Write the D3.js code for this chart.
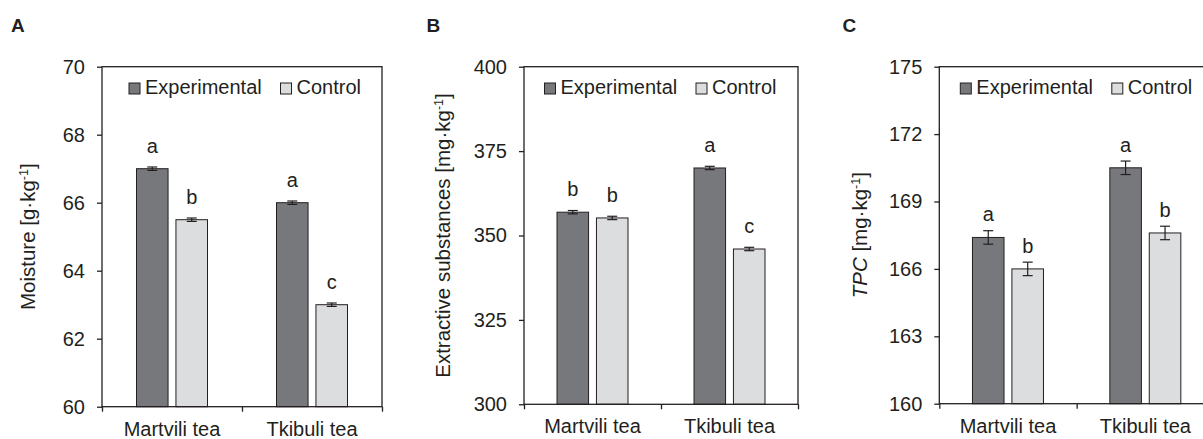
<!DOCTYPE html>
<html>
<head>
<meta charset="utf-8">
<script src="https://cdn.jsdelivr.net/npm/d3@7"></script>
<style>
  body { margin: 0; background: #fff; }
  svg { display: block; font-family: "Liberation Sans", Arial, sans-serif; }
  text { fill: #231f20; }
</style>
</head>
<body>
<svg id="chart" width="1203" height="439"></svg>
<script>
// categories and series
const teas = ["Martvili tea", "Tkibuli tea"];
const series = ["Experimental", "Control"];

// A - moisture
const moistureExp = [67.0, 66.0];
const moistureCtl = [65.5, 63.0];
const moistureErrExp = [0.05, 0.05];
const moistureErrCtl = [0.05, 0.05];
const moistureLetters = [["a", "b"], ["a", "c"]];
const moistureTicks = [60, 62, 64, 66, 68, 70];

// B - extractive substances
const extractExp = [356.9, 370.0];
const extractCtl = [355.2, 346.0];
const extractErrExp = [0.5, 0.5];
const extractErrCtl = [0.5, 0.5];
const extractLetters = [["b", "b"], ["a", "c"]];
const extractTicks = [300, 325, 350, 375, 400];

// C - total phenolic content
const tpcExp = [167.4, 170.5];
const tpcCtl = [166.0, 167.6];
const tpcErrExp = [0.3, 0.3];
const tpcErrCtl = [0.3, 0.3];
const tpcLetters = [["a", "b"], ["a", "b"]];
const tpcTicks = [160, 163, 166, 169, 172, 175];

const colors = { Experimental: "#77787b", Control: "#dcddde" };
const ink = "#231f20";
const fontSize = 20;

const svg = d3.select("#chart");

const panels = [
  { tag: "A", tagX: 11, left: 102, right: 382, top: 66.7, bottom: 406.7,
    exp: moistureExp, ctl: moistureCtl, errExp: moistureErrExp, errCtl: moistureErrCtl,
    letters: moistureLetters, ticks: moistureTicks, titleX: 35, legendX: 27,
    title: [{ t: "Moisture [g·kg" }, { t: "-1", sup: true }, { t: "]" }] },
  { tag: "B", tagX: 426.5, left: 524, right: 798, top: 66.7, bottom: 404.3,
    exp: extractExp, ctl: extractCtl, errExp: extractErrExp, errCtl: extractErrCtl,
    letters: extractLetters, ticks: extractTicks, titleX: 449.5, legendX: 20.5,
    title: [{ t: "Extractive substances [mg·kg" }, { t: "-1", sup: true }, { t: "]" }] },
  { tag: "C", tagX: 842.5, left: 939.3, right: 1214, top: 66.7, bottom: 403.7,
    exp: tpcExp, ctl: tpcCtl, errExp: tpcErrExp, errCtl: tpcErrCtl,
    letters: tpcLetters, ticks: tpcTicks, titleX: 866.8, legendX: 21,
    title: [{ t: "TPC", it: true }, { t: " [mg·kg" }, { t: "-1", sup: true }, { t: "]" }] }
];

panels.forEach(function(p) {
  let g = svg.append("g");

  let y = d3.scaleLinear()
    .domain(d3.extent(p.ticks))
    .range([p.bottom, p.top]);

  let x0 = d3.scaleBand()
    .domain(teas)
    .range([p.left, p.right])
    .padding(0);

  let groupW = 71;
  let x1 = d3.scaleBand()
    .domain(series)
    .range([x0.bandwidth() / 2 - groupW / 2, x0.bandwidth() / 2 + groupW / 2])
    .paddingInner(0.2);

  let rows = [];
  teas.forEach(function(tea, i) {
    rows.push({ tea: tea, s: "Experimental", v: p.exp[i], e: p.errExp[i], l: p.letters[i][0] });
    rows.push({ tea: tea, s: "Control", v: p.ctl[i], e: p.errCtl[i], l: p.letters[i][1] });
  });

  // bars
  g.selectAll("rect.bar")
    .data(rows)
    .enter().append("rect")
    .attr("class", "bar")
    .attr("x", d => x0(d.tea) + x1(d.s))
    .attr("y", d => y(d.v))
    .attr("width", x1.bandwidth())
    .attr("height", d => y.range()[0] - y(d.v))
    .attr("fill", d => colors[d.s])
    .attr("stroke", ink)
    .attr("stroke-width", 1);

  // error bars
  let eb = g.selectAll("g.err")
    .data(rows)
    .enter().append("g")
    .attr("class", "err")
    .attr("transform", d => "translate(" + (x0(d.tea) + x1(d.s) + x1.bandwidth() / 2) + ",0)");
  eb.append("line")
    .attr("y1", d => y(d.v - d.e)).attr("y2", d => y(d.v + d.e))
    .attr("stroke", ink).attr("stroke-width", 1.2);
  eb.append("line")
    .attr("x1", -5).attr("x2", 5)
    .attr("y1", d => y(d.v + d.e)).attr("y2", d => y(d.v + d.e))
    .attr("stroke", ink).attr("stroke-width", 1.2);
  eb.append("line")
    .attr("x1", -5).attr("x2", 5)
    .attr("y1", d => y(d.v - d.e)).attr("y2", d => y(d.v - d.e))
    .attr("stroke", ink).attr("stroke-width", 1.2);

  // significance letters
  g.selectAll("text.letter")
    .data(rows)
    .enter().append("text")
    .attr("class", "letter")
    .attr("x", d => x0(d.tea) + x1(d.s) + x1.bandwidth() / 2)
    .attr("y", d => y(d.v) - 16)
    .attr("text-anchor", "middle")
    .style("font-size", fontSize + "px")
    .text(d => d.l);

  // frame
  g.append("rect")
    .attr("x", p.left).attr("y", p.top)
    .attr("width", p.right - p.left).attr("height", p.bottom - p.top)
    .attr("fill", "none").attr("stroke", ink).attr("stroke-width", 1.3);

  // y axis
  let yAxis = d3.axisLeft(y)
    .tickValues(p.ticks)
    .tickSize(5)
    .tickSizeOuter(0)
    .tickPadding(12);
  let yG = g.append("g").attr("transform", "translate(" + p.left + ",0)").call(yAxis);
  yG.select(".domain").remove();
  yG.selectAll("line").attr("stroke", ink).attr("stroke-width", 1.3);
  yG.selectAll("text").attr("fill", ink).style("font-size", fontSize + "px")
    .style("font-family", "'Liberation Sans', Arial, sans-serif");

  // x axis: boundary ticks
  let xEdge = d3.scaleLinear().domain([0, teas.length]).range([p.left, p.right]);
  let xTickG = g.append("g").attr("transform", "translate(0," + p.bottom + ")")
    .call(d3.axisBottom(xEdge).tickValues(d3.range(teas.length + 1)).tickFormat("").tickSize(5).tickSizeOuter(0));
  xTickG.select(".domain").remove();
  xTickG.selectAll("line").attr("stroke", ink).attr("stroke-width", 1.3);

  // x axis: category labels
  let xLabG = g.append("g").attr("transform", "translate(0," + p.bottom + ")")
    .call(d3.axisBottom(x0).tickSize(0).tickPadding(15));
  xLabG.select(".domain").remove();
  xLabG.selectAll("text").attr("fill", ink).style("font-size", fontSize + "px")
    .style("font-family", "'Liberation Sans', Arial, sans-serif");

  // legend
  let lg = g.append("g").attr("transform", "translate(" + (p.left + p.legendX) + ",83)");
  let offs = [0, 151.5];
  series.forEach(function(s, i) {
    lg.append("rect")
      .attr("x", offs[i]).attr("y", 0)
      .attr("width", 11).attr("height", 11)
      .attr("fill", colors[s]).attr("stroke", ink).attr("stroke-width", 1);
    lg.append("text")
      .attr("x", offs[i] + 16).attr("y", 11)
      .style("font-size", fontSize + "px")
      .text(s);
  });

  // y title
  let title = g.append("text")
    .attr("transform", "translate(" + p.titleX + "," + ((p.top + p.bottom) / 2) + ") rotate(-90)")
    .attr("text-anchor", "middle")
    .style("font-size", "20.5px");
  p.title.forEach(function(part) {
    let ts = title.append("tspan").text(part.t);
    if (part.it) ts.style("font-style", "italic");
    if (part.sup) ts.style("font-size", "12.5px").attr("dy", "-7");
    if (part.t === "]") ts.attr("dy", "7");
  });

  // panel tag
  svg.append("text")
    .attr("x", p.tagX).attr("y", 32)
    .style("font-size", "19px").style("font-weight", "bold")
    .text(p.tag);
});
</script>
</body>
</html>
